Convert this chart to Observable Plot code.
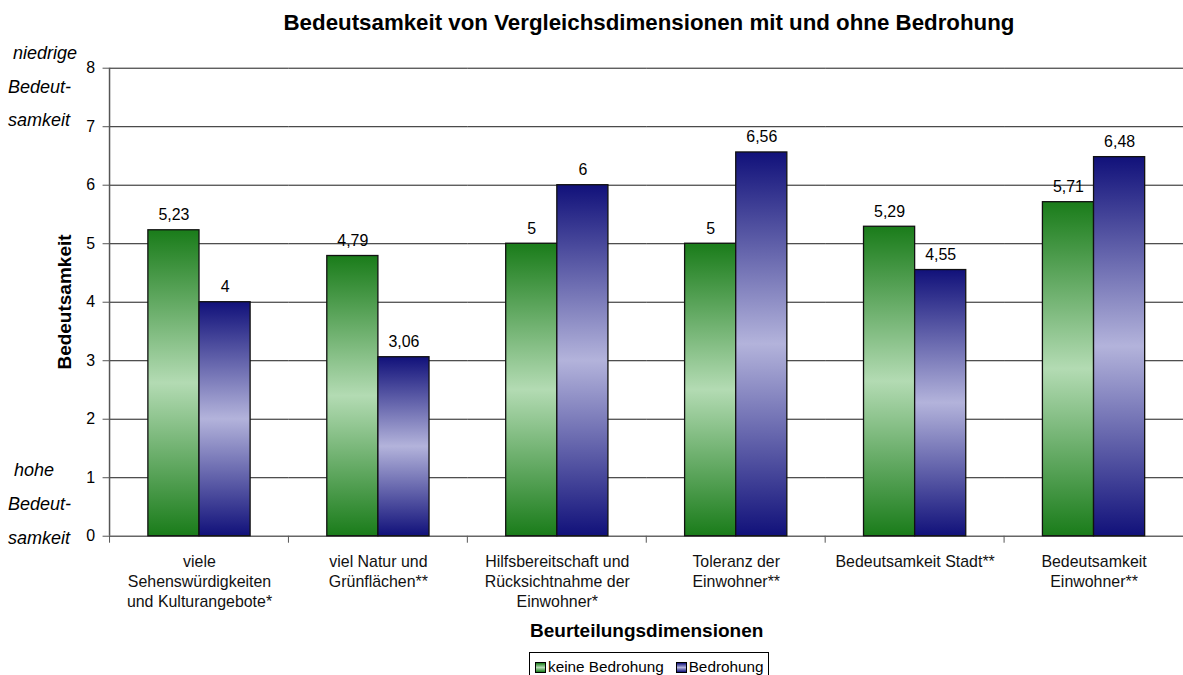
<!DOCTYPE html>
<html><head><meta charset="utf-8">
<script src="https://cdn.jsdelivr.net/npm/d3@7"></script>
<script src="https://cdn.jsdelivr.net/npm/@observablehq/plot@0.6"></script>
<style>
html,body{margin:0;padding:0;background:#fff;overflow:hidden}
#wrap{position:relative;width:1183px;height:675px;overflow:hidden;font-family:"Liberation Sans",Arial,sans-serif;color:#000}
#chart{position:absolute;left:0;top:0}
.abs{position:absolute;white-space:nowrap;line-height:20px}
.it{font-style:italic;font-size:18px}
#legend{position:absolute;left:529px;top:652px;width:240px;height:30px;border:1px solid #000;box-sizing:border-box;font-size:15.3px;display:flex;align-items:center;padding-left:5px;background:#fff;white-space:nowrap;overflow:visible}
#legend span{flex-shrink:0}
.sw{display:inline-block;width:9px;height:9px;border:1px solid #000;margin-right:2px}
</style></head><body>
<div id="wrap">
  <div id="chart"></div>
  <div class="abs" id="title" style="left:110px;width:1078px;text-align:center;top:11px;font-weight:bold;font-size:22.3px;line-height:24px"></div>
  <div class="abs" id="xlabel" style="left:530px;top:621px;font-weight:bold;font-size:19px"></div>
  <div class="abs" id="ylabel" style="left:65px;top:302px;font-weight:bold;font-size:19px;transform:translate(-50%,-50%) rotate(-90deg)"></div>
  <div class="abs it" style="left:13px;top:43px">niedrige</div>
  <div class="abs it" style="left:8px;top:77px">Bedeut-</div>
  <div class="abs it" style="left:8px;top:110px">samkeit</div>
  <div class="abs it" style="left:14px;top:460px">hohe</div>
  <div class="abs it" style="left:8px;top:494px">Bedeut-</div>
  <div class="abs it" style="left:8px;top:528px">samkeit</div>
  <div id="legend"></div>
</div>
<script>
const title = "Bedeutsamkeit von Vergleichsdimensionen mit und ohne Bedrohung";
const xTitle = "Beurteilungsdimensionen";
const yTitle = "Bedeutsamkeit";
const categories = [
  "viele\nSehenswürdigkeiten\nund Kulturangebote*",
  "viel Natur und\nGrünflächen**",
  "Hilfsbereitschaft und\nRücksichtnahme der\nEinwohner*",
  "Toleranz der\nEinwohner**",
  "Bedeutsamkeit Stadt**",
  "Bedeutsamkeit\nEinwohner**"
];
const series = ["keine Bedrohung", "Bedrohung"];
const keineBedrohung = [5.23, 4.79, 5, 5, 5.29, 5.71];
const bedrohung = [4, 3.06, 6, 6.56, 4.55, 6.48];
const yTicks = [0, 1, 2, 3, 4, 5, 6, 7, 8];

const data = [];
categories.forEach((c, i) => {
  data.push({cat: c, series: series[0], value: keineBedrohung[i]});
  data.push({cat: c, series: series[1], value: bedrohung[i]});
});
const fmt = v => String(v).replace(".", ",");

const plot = Plot.plot({
  width: 1188, height: 675,
  marginLeft: 110, marginRight: 0, marginTop: 68, marginBottom: 137,
  style: {fontFamily: "Liberation Sans, Arial, sans-serif", fontSize: "16px", background: "transparent", color: "#000"},
  fx: {domain: categories, padding: 0, round: false, axis: null},
  x: {domain: series, paddingInner: 0, paddingOuter: 0.75, round: false, axis: null},
  y: {domain: [0, 8], axis: null},
  marks: [
    Plot.ruleY(yTicks.filter(d => d > 0), {stroke: "#1a1a1a", strokeWidth: 1}),
    Plot.ruleY([0], {stroke: "#666", strokeWidth: 1.5}),
    Plot.axisY({ticks: yTicks, tickSize: 7, tickPadding: 8, fontSize: 16, label: null, stroke: "#555"}),
    Plot.barY(data.filter(d => d.series === series[0]), {fx: "cat", x: "series", y: "value", fill: "url(#gGreen)", stroke: "#111", strokeWidth: 1.3}),
    Plot.barY(data.filter(d => d.series === series[1]), {fx: "cat", x: "series", y: "value", fill: "url(#gBlue)", stroke: "#111", strokeWidth: 1.3}),
    Plot.text(data, {fx: "cat", x: "series", y: "value", text: d => fmt(d.value), lineAnchor: "bottom", dy: -10, fontSize: 16, fill: "#000"}),
    Plot.text(categories, {fx: d => d, text: d => d, frameAnchor: "bottom", lineAnchor: "top", dy: 17, lineHeight: 1.25, fontSize: 16, fill: "#111"})
  ]
});
document.getElementById("chart").appendChild(plot);

// gradients
const svg = d3.select(plot);
const defs = svg.insert("defs", ":first-child");
function grad(id, dark, light) {
  const g = defs.append("linearGradient").attr("id", id).attr("x1", 0).attr("y1", 0).attr("x2", 0).attr("y2", 1);
  g.append("stop").attr("offset", "0%").attr("stop-color", dark);
  g.append("stop").attr("offset", "50%").attr("stop-color", light);
  g.append("stop").attr("offset", "100%").attr("stop-color", dark);
}
grad("gGreen", "#1a7c1a", "#b3dbb3");
grad("gBlue", "#11117a", "#b3b3db");

// axis line and category boundary ticks, from the plot's own scales
const fx = plot.scale("fx"), y = plot.scale("y");
const y0 = y.apply(0), y8 = y.apply(8);
const left = fx.apply(categories[0]);
const g = svg.append("g").attr("stroke", "#555").attr("stroke-width", 1.5);
g.append("line").attr("x1", left).attr("x2", left).attr("y1", y8).attr("y2", y0);
categories.forEach(c => {
  const xx = fx.apply(c);
  g.append("line").attr("x1", xx).attr("x2", xx).attr("y1", y0).attr("y2", y0 + 7).attr("stroke-width", 1);
});

document.getElementById("title").textContent = title;
document.getElementById("xlabel").textContent = xTitle;
document.getElementById("ylabel").textContent = yTitle;
const lg = document.getElementById("legend");
series.forEach((s, i) => {
  const sw = document.createElement("span");
  sw.className = "sw";
  sw.style.background = i === 0 ? "linear-gradient(#1a7c1a,#b3dbb3,#1a7c1a)" : "linear-gradient(#11117a,#b3b3db,#11117a)";
  lg.appendChild(sw);
  const t = document.createElement("span");
  t.textContent = s;
  if (i === 0) t.style.marginRight = "12px";
  lg.appendChild(t);
});
</script>
</body></html>
